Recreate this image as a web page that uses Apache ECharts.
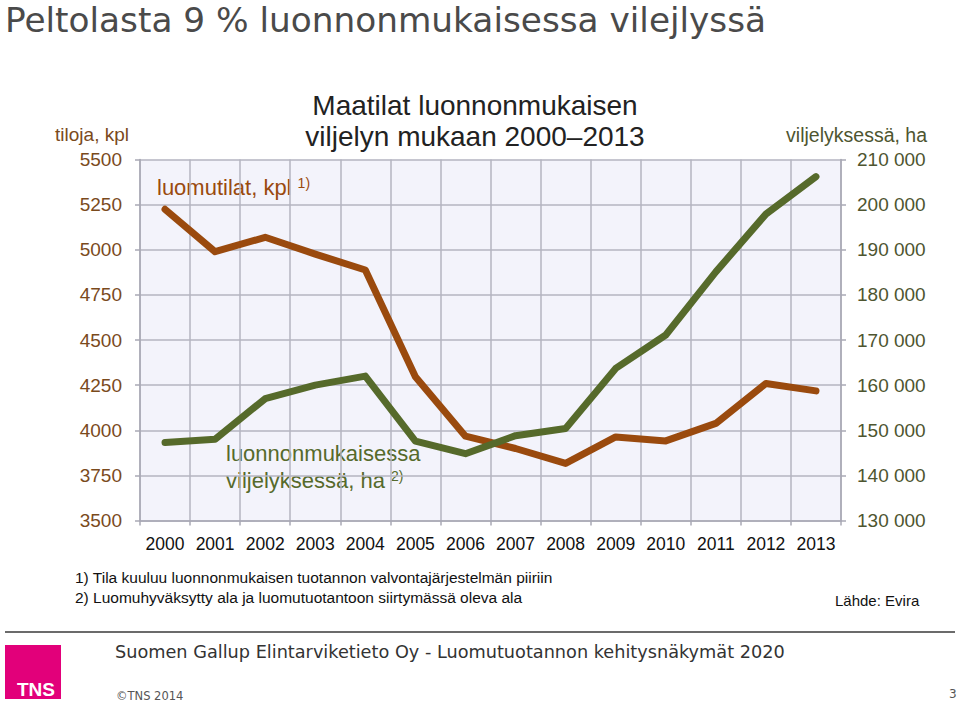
<!DOCTYPE html>
<html>
<head>
<meta charset="utf-8">
<script src="https://cdn.jsdelivr.net/npm/echarts@6/dist/echarts.min.js"></script>
<style>
html,body{margin:0;padding:0;background:#fff;}
#c{width:959px;height:702px;}
</style>
</head>
<body>
<div id="c"></div>
<script>
const years = ['2000','2001','2002','2003','2004','2005','2006','2007','2008','2009','2010','2011','2012','2013'];
const farms = [5224, 4989, 5069, 4976, 4888, 4296, 3967, 3899, 3816, 3963, 3941, 4038, 4259, 4218];
const hectares = [147300, 148000, 157000, 160000, 162000, 147600, 144800, 148800, 150400, 163700, 171100, 185100, 197900, 206200];
const leftTicks = {min: 3500, max: 5500, step: 250};
const rightTicks = {min: 130000, max: 210000, step: 10000};

const FONT = 'Liberation Sans, Arial, sans-serif';
const VFONT = 'DejaVu Sans, Verdana, sans-serif';
const BROWN = '#9a4a0e';
const GREEN = '#566a2b';
const chart = echarts.init(document.getElementById('c'), null, {renderer: 'svg'});

function fmtSpace(v){
  return String(v).replace(/\B(?=(\d{3})+(?!\d))/g, ' ');
}

chart.setOption({
  backgroundColor: '#ffffff',
  animation: false,
  grid: {
    left: 140, right: 118, top: 159.5, bottom: 181.5,
    show: true, backgroundColor: '#f3f3fb', borderWidth: 0
  },
  xAxis: {
    type: 'category',
    data: years,
    boundaryGap: true,
    axisLine: {show: true, lineStyle: {color: '#a8a8b4', width: 1.5}},
    axisTick: {show: true, length: 5, lineStyle: {color: '#a8a8b4', width: 1.5}},
    splitLine: {show: true, lineStyle: {color: '#b4b4c0', width: 1.5}},
    axisLabel: {color: '#111', fontFamily: FONT, fontSize: 17.5, margin: 14, interval: 0}
  },
  yAxis: [
    {
      type: 'value', position: 'left',
      min: leftTicks.min, max: leftTicks.max, interval: leftTicks.step,
      axisLine: {show: true, lineStyle: {color: '#a8a8b4', width: 1.5}},
      axisTick: {show: true, length: 5, lineStyle: {color: '#a8a8b4', width: 1.5}},
      splitLine: {show: true, lineStyle: {color: '#b4b4c0', width: 1.5}},
      axisLabel: {color: '#7a4a1c', fontFamily: FONT, fontSize: 19, margin: 18, formatter: function(v){ return String(v); }}
    },
    {
      type: 'value', position: 'right',
      min: rightTicks.min, max: rightTicks.max, interval: rightTicks.step,
      axisLine: {show: true, lineStyle: {color: '#a8a8b4', width: 1.5}},
      axisTick: {show: true, length: 5, lineStyle: {color: '#a8a8b4', width: 1.5}},
      splitLine: {show: false},
      axisLabel: {color: '#4e5530', fontFamily: FONT, fontSize: 19, margin: 16, formatter: fmtSpace}
    }
  ],
  series: [
    {
      type: 'line', name: 'luomutilat', yAxisIndex: 0, data: farms,
      showSymbol: false, symbol: 'none',
      lineStyle: {color: BROWN, width: 7, cap: 'round', join: 'round'},
      itemStyle: {color: BROWN}
    },
    {
      type: 'line', name: 'ala', yAxisIndex: 1, data: hectares,
      showSymbol: false, symbol: 'none',
      lineStyle: {color: GREEN, width: 7, cap: 'round', join: 'round'},
      itemStyle: {color: GREEN}
    }
  ],
  graphic: [
    {type: 'text', x: 5, y: 5, style: {text: 'Peltolasta 9 % luonnonmukaisessa vilejlyssä', fill: '#4a4a4a', font: '34.3px ' + VFONT, verticalAlign: 'top', lineHeight: 30}},
    {type: 'text', x: 475, y: 90, style: {text: 'Maatilat luonnonmukaisen\nviljelyn mukaan 2000–2013', fill: '#222', font: '28px ' + FONT, align: 'center', lineHeight: 31}},
    {type: 'text', x: 129, y: 125, style: {text: 'tiloja, kpl', fill: '#7a4a1c', font: '19px ' + FONT, align: 'right'}},
    {type: 'text', x: 927, y: 125, style: {text: 'viljelyksessä, ha', fill: '#4e5530', font: '19.5px ' + FONT, align: 'right'}},
    {type: 'text', x: 157, y: 176, style: {
      text: '{a|luomutilat, kpl }{s|1)}',
      rich: {a: {fill: BROWN, font: '22px ' + FONT}, s: {fill: BROWN, font: '14px ' + FONT, padding: [0,0,9,0]}}
    }},
    {type: 'text', x: 226, y: 440, style: {
      text: '{a|luonnonmukaisessa}\n{a|viljelyksessä, ha }{s|2)}',
      rich: {a: {fill: GREEN, font: '22px ' + FONT, lineHeight: 27}, s: {fill: GREEN, font: '14px ' + FONT, lineHeight: 27, padding: [0,0,10,0]}}
    }},
    {type: 'text', x: 75, y: 569, style: {text: '1) Tila kuuluu luonnonmukaisen tuotannon valvontajärjestelmän piiriin', fill: '#111', font: '15.5px ' + FONT}},
    {type: 'text', x: 75, y: 589, style: {text: '2) Luomuhyväksytty ala ja luomutuotantoon siirtymässä oleva ala', fill: '#111', font: '15.5px ' + FONT}},
    {type: 'text', x: 835, y: 593, style: {text: 'Lähde: Evira', fill: '#111', font: '15px ' + FONT}},
    {type: 'line', shape: {x1: 5, y1: 632, x2: 955, y2: 632}, style: {stroke: '#6b6b6b', lineWidth: 2}},
    {type: 'text', x: 115, y: 643, style: {text: 'Suomen Gallup Elintarviketieto Oy - Luomutuotannon kehitysnäkymät 2020', fill: '#333', font: '17.7px ' + VFONT}},
    {type: 'rect', shape: {x: 5, y: 645, width: 56, height: 54}, style: {fill: '#e2007a'}},
    {type: 'text', x: 17, y: 680, style: {text: 'TNS', fill: '#fff', font: 'bold 19px ' + FONT}},
    {type: 'text', x: 116, y: 690, style: {text: '©TNS 2014', fill: '#555', font: '11.5px ' + VFONT}},
    {type: 'text', x: 949, y: 688, style: {text: '3', fill: '#555', font: '12px ' + VFONT}}
  ]
});
</script>
</body>
</html>
